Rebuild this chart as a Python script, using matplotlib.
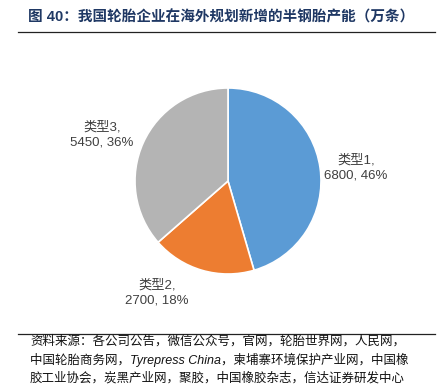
import matplotlib
matplotlib.use("Agg")
import matplotlib.pyplot as plt

plt.rcParams['font.family'] = ['Liberation Sans', 'Noto Sans CJK SC', 'DejaVu Sans']

categories = ["类型1", "类型2", "类型3"]
values = [6800, 2700, 5450]
percents = [46, 18, 36]
colors = ["#5B9BD5", "#ED7D31", "#B4B4B4"]

title = "图 40：我国轮胎企业在海外规划新增的半钢胎产能（万条）"
source = ("资料来源：各公司公告，微信公众号，官网，轮胎世界网，人民网，\n"
          "中国轮胎商务网，Tyrepress China，柬埔寨环境保护产业网，中国橡\n"
          "胶工业协会，炭黑产业网，聚胶，中国橡胶杂志，信达证券研发中心")

W, H = 445, 392
fig = plt.figure(figsize=(W / 100, H / 100), dpi=100)
ax = fig.add_axes([0, 0, 1, 1])

cx, cy, r = 228, H - 181, 93
ax.pie(values, colors=colors, startangle=90, counterclock=False,
       center=(cx, cy), radius=r, frame=True,
       wedgeprops=dict(edgecolor='white', linewidth=1.2))
ax.set_xlim(0, W)
ax.set_ylim(0, H)
ax.set_aspect('auto')
ax.axis('off')

label_pos = [(356, 168), (157, 293), (102, 135)]
for cat, v, p, (lx, ly) in zip(categories, values, percents, label_pos):
    ax.text(lx, H - ly, f"{cat},\n{v}, {p}%", ha='center', va='center',
            fontsize=9.5, color='#404040', linespacing=1.3)

ax.text(28, H - 17, title, ha='left', va='center', fontsize=10.5,
        fontweight='bold', color='#1F3864')
ax.plot([18, 435], [H - 32, H - 32], color='#222222', lw=0.9)
ax.plot([18, 435], [H - 334, H - 334], color='#222222', lw=0.9)
ax.text(30, H - 360, source, ha='left', va='center', fontsize=9,
        style='italic', color='#111111', linespacing=1.45)

fig.savefig("out.png", dpi=100)
